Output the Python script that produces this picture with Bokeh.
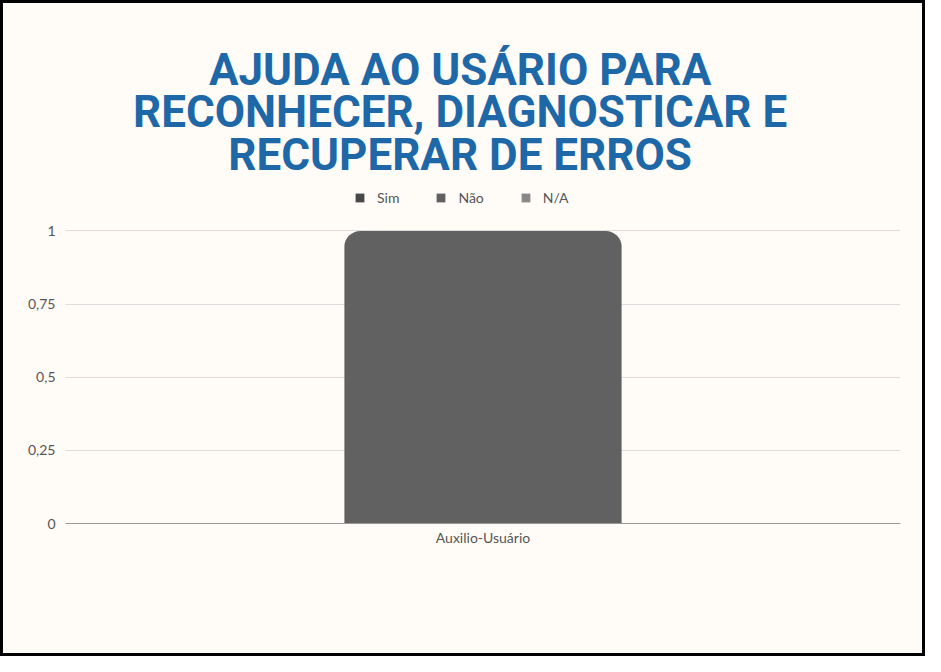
from bokeh.plotting import figure
from bokeh.embed import file_html
from bokeh.resources import INLINE
from bokeh.models import ColumnDataSource, FactorRange, Range1d, FixedTicker, Label, Legend, LegendItem
from bokeh.transform import dodge

# ---- data ----
categories = ["Auxilio-Usuário"]
series_names = ["Sim", "Não", "N/A"]
sim_values = [0]
nao_values = [1]
na_values = [0]
y_ticks = [0, 0.25, 0.5, 0.75, 1]
y_tick_labels = ["0", "0,25", "0,5", "0,75", "1"]
title_lines = ["AJUDA AO USÁRIO PARA", "RECONHECER, DIAGNOSTICAR E", "RECUPERAR DE ERROS"]

series_colors = ["#484848", "#616161", "#888888"]
BG = "#fffcf7"
LABEL_COLOR = "#555555"
TITLE_COLOR = "#1f68a8"

source = ColumnDataSource(dict(cat=categories, Sim=sim_values, Nao=nao_values, NA=na_values))

FRAME_TOP = 0
FRAME_BOTTOM = 520
UNIT_PX = 292.6

p = figure(
    width=925, height=656,
    x_range=FactorRange(*categories),
    y_range=Range1d(0, (FRAME_BOTTOM - FRAME_TOP) / UNIT_PX),
    output_backend="svg", toolbar_location=None,
    min_border_left=62, min_border_right=28, min_border_bottom=656 - FRAME_BOTTOM, min_border_top=FRAME_TOP,
    background_fill_color=BG, border_fill_color=BG,
)
p.outline_line_color = None
p.styles = {"border": "3px solid black", "box-sizing": "border-box"}

# title: three centred lines (positions in px relative to the frame's bottom-left)
title_y = [453.5, 411.5, 368.5]
for line, ty in zip(title_lines, title_y):
    p.add_layout(Label(
        x=394.6, y=ty, x_units="screen", y_units="screen", text=line,
        text_align="center", text_baseline="alphabetic",
        text_font="Roboto", text_font_style="bold", text_font_size="44px",
        text_color=TITLE_COLOR,
    ))

bw = 0.332
fields = ["Sim", "Nao", "NA"]
offsets = [-bw, 0, bw]
renderers = []
for f, off, col in zip(fields, offsets, series_colors):
    r = p.vbar(x=dodge("cat", off, range=p.x_range), top=f, width=bw, source=source,
               fill_color=col, line_color=None, border_radius=(16, 16, 0, 0))
    renderers.append(r)

legend = Legend(items=[LegendItem(label=n, renderers=[r]) for n, r in zip(series_names, renderers)],
                orientation="horizontal", location=(289, 317),
                padding=0, margin=0, spacing=36, label_standoff=12,
                glyph_width=11, glyph_height=11, label_height=11,
                label_text_font="Lato", label_text_font_size="14px", label_text_color=LABEL_COLOR,
                border_line_color=None, background_fill_alpha=0)
p.add_layout(legend, "center")

# axes
p.yaxis.ticker = FixedTicker(ticks=y_ticks)
p.yaxis.major_label_overrides = {tk: lb for tk, lb in zip(y_ticks, y_tick_labels)}
p.yaxis.axis_line_color = None
p.yaxis.major_tick_line_color = None
p.yaxis.minor_tick_line_color = None
p.yaxis.major_tick_out = 0
p.yaxis.minor_tick_out = 0
p.yaxis.major_label_standoff = 10
p.yaxis.major_label_text_font = "Lato"
p.yaxis.major_label_text_font_size = "14px"
p.yaxis.major_label_text_color = LABEL_COLOR

p.xaxis.axis_line_color = "#9a9a9a"
p.xaxis.axis_line_width = 1
p.xaxis.major_tick_line_color = None
p.xaxis.minor_tick_line_color = None
p.xaxis.major_tick_out = 0
p.xaxis.minor_tick_out = 0
p.xaxis.major_label_standoff = 5
p.xaxis.major_label_text_font = "Lato"
p.xaxis.major_label_text_font_size = "14px"
p.xaxis.major_label_text_color = LABEL_COLOR

p.xgrid.grid_line_color = None
p.ygrid.ticker = FixedTicker(ticks=y_ticks)
p.ygrid.grid_line_color = "#dcdcdc"

open("out.html", "w").write(file_html(p, INLINE))
